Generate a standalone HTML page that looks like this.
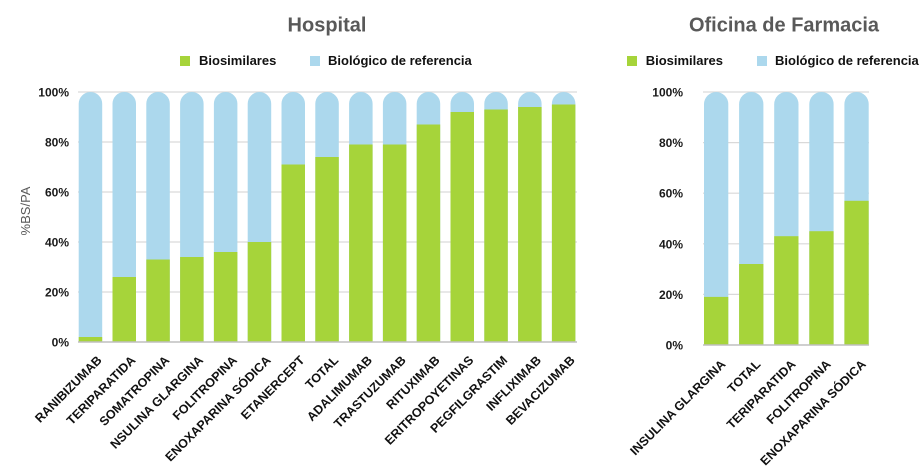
<!DOCTYPE html>
<html><head><meta charset="utf-8"><style>
html,body{margin:0;padding:0;background:#fff;}
svg{display:block;}
text{font-family:"Liberation Sans",Arial,sans-serif;}
.t{font-size:20px;font-weight:bold;fill:#595959;}
.lg{font-size:13px;font-weight:bold;fill:#111;}
.yl{font-size:12px;font-weight:bold;fill:#1a1a1a;}
.xl{font-size:12.5px;font-weight:bold;fill:#111;}
</style></head><body>
<svg width="921" height="470" viewBox="0 0 921 470" xmlns="http://www.w3.org/2000/svg">
<rect width="921" height="470" fill="#fff"/>
<!-- Hospital -->
<text class="t" x="327" y="31.5" text-anchor="middle">Hospital</text>
<rect x="180" y="56" width="10" height="10" fill="#a6d43a"/>
<text class="lg" x="199" y="65">Biosimilares</text>
<rect x="310" y="56" width="10" height="10" fill="#acd8ed"/>
<text class="lg" x="328" y="65">Biológico de referencia</text>
<g stroke="#d9d9d9" stroke-width="1.2">
<line x1="78" y1="92" x2="577" y2="92"/>
<line x1="78" y1="142" x2="577" y2="142"/>
<line x1="78" y1="192" x2="577" y2="192"/>
<line x1="78" y1="242" x2="577" y2="242"/>
<line x1="78" y1="292" x2="577" y2="292"/>
</g>
<g class="yl" text-anchor="end">
<text x="69" y="96.5">100%</text>
<text x="69" y="146.5">80%</text>
<text x="69" y="196.5">60%</text>
<text x="69" y="246.5">40%</text>
<text x="69" y="296.5">20%</text>
<text x="69" y="346.5">0%</text>
</g>
<text transform="translate(30,211) rotate(-90)" font-size="13" fill="#595959" text-anchor="middle">%BS/PA</text>
<g fill="#acd8ed">
<path d="M78.7,342V103.75A11.75,11.75 0 0 1 102.2,103.75V342Z"/>
<path d="M112.5,342V103.75A11.75,11.75 0 0 1 136,103.75V342Z"/>
<path d="M146.3,342V103.75A11.75,11.75 0 0 1 169.8,103.75V342Z"/>
<path d="M180.1,342V103.75A11.75,11.75 0 0 1 203.6,103.75V342Z"/>
<path d="M213.9,342V103.75A11.75,11.75 0 0 1 237.4,103.75V342Z"/>
<path d="M247.7,342V103.75A11.75,11.75 0 0 1 271.2,103.75V342Z"/>
<path d="M281.5,342V103.75A11.75,11.75 0 0 1 305,103.75V342Z"/>
<path d="M315.3,342V103.75A11.75,11.75 0 0 1 338.8,103.75V342Z"/>
<path d="M349.1,342V103.75A11.75,11.75 0 0 1 372.6,103.75V342Z"/>
<path d="M382.9,342V103.75A11.75,11.75 0 0 1 406.4,103.75V342Z"/>
<path d="M416.7,342V103.75A11.75,11.75 0 0 1 440.2,103.75V342Z"/>
<path d="M450.5,342V103.75A11.75,11.75 0 0 1 474,103.75V342Z"/>
<path d="M484.3,342V103.75A11.75,11.75 0 0 1 507.8,103.75V342Z"/>
<path d="M518.1,342V103.75A11.75,11.75 0 0 1 541.6,103.75V342Z"/>
<path d="M551.9,342V103.75A11.75,11.75 0 0 1 575.4,103.75V342Z"/>
</g>
<g fill="#a6d43a">
<rect x="78.7" y="337" width="23.5" height="5"/>
<rect x="112.5" y="277" width="23.5" height="65"/>
<rect x="146.3" y="259.5" width="23.5" height="82.5"/>
<rect x="180.1" y="257" width="23.5" height="85"/>
<rect x="213.9" y="252" width="23.5" height="90"/>
<rect x="247.7" y="242" width="23.5" height="100"/>
<rect x="281.5" y="164.5" width="23.5" height="177.5"/>
<rect x="315.3" y="157" width="23.5" height="185"/>
<rect x="349.1" y="144.5" width="23.5" height="197.5"/>
<rect x="382.9" y="144.5" width="23.5" height="197.5"/>
<rect x="416.7" y="124.5" width="23.5" height="217.5"/>
<rect x="450.5" y="112" width="23.5" height="230"/>
<rect x="484.3" y="109.5" width="23.5" height="232.5"/>
<rect x="518.1" y="107" width="23.5" height="235"/>
<rect x="551.9" y="104.5" width="23.5" height="237.5"/>
</g>
<line x1="78" y1="342" x2="577" y2="342" stroke="#bfbfbf" stroke-width="1.6"/>
<g class="xl" text-anchor="end">
<text transform="translate(102.5,361) rotate(-45)">RANIBIZUMAB</text>
<text transform="translate(136.3,361) rotate(-45)">TERIPARATIDA</text>
<text transform="translate(170.1,361) rotate(-45)">SOMATROPINA</text>
<text transform="translate(203.9,361) rotate(-45)">NSULINA GLARGINA</text>
<text transform="translate(237.7,361) rotate(-45)">FOLITROPINA</text>
<text transform="translate(271.5,361) rotate(-45)">ENOXAPARINA SÓDICA</text>
<text transform="translate(305.3,361) rotate(-45)">ETANERCEPT</text>
<text transform="translate(339.1,361) rotate(-45)">TOTAL</text>
<text transform="translate(372.9,361) rotate(-45)">ADALIMUMAB</text>
<text transform="translate(406.7,361) rotate(-45)">TRASTUZUMAB</text>
<text transform="translate(440.5,361) rotate(-45)">RITUXIMAB</text>
<text transform="translate(474.3,361) rotate(-45)">ERITROPOYETINAS</text>
<text transform="translate(508.1,361) rotate(-45)">PEGFILGRASTIM</text>
<text transform="translate(541.9,361) rotate(-45)">INFLIXIMAB</text>
<text transform="translate(575.7,361) rotate(-45)">BEVACIZUMAB</text>
</g>

<!-- Oficina de Farmacia -->
<text class="t" x="784" y="31.5" text-anchor="middle">Oficina de Farmacia</text>
<rect x="627" y="56" width="10" height="10" fill="#a6d43a"/>
<text class="lg" x="645.7" y="65">Biosimilares</text>
<rect x="757" y="56" width="10" height="10" fill="#acd8ed"/>
<text class="lg" x="775" y="65">Biológico de referencia</text>
<g stroke="#d9d9d9" stroke-width="1.2">
<line x1="703" y1="92" x2="869" y2="92"/>
<line x1="703" y1="142.6" x2="869" y2="142.6"/>
<line x1="703" y1="193.2" x2="869" y2="193.2"/>
<line x1="703" y1="243.8" x2="869" y2="243.8"/>
<line x1="703" y1="294.4" x2="869" y2="294.4"/>
</g>
<g class="yl" text-anchor="end">
<text x="683" y="96.5">100%</text>
<text x="683" y="147.1">80%</text>
<text x="683" y="197.7">60%</text>
<text x="683" y="248.3">40%</text>
<text x="683" y="298.9">20%</text>
<text x="683" y="349.5">0%</text>
</g>
<g fill="#acd8ed">
<path d="M704,345V104.15A12.15,12.15 0 0 1 728.3,104.15V345Z"/>
<path d="M739.1,345V104.15A12.15,12.15 0 0 1 763.4,104.15V345Z"/>
<path d="M774.2,345V104.15A12.15,12.15 0 0 1 798.5,104.15V345Z"/>
<path d="M809.3,345V104.15A12.15,12.15 0 0 1 833.6,104.15V345Z"/>
<path d="M844.4,345V104.15A12.15,12.15 0 0 1 868.7,104.15V345Z"/>
</g>
<g fill="#a6d43a">
<rect x="704" y="296.9" width="24.3" height="48.1"/>
<rect x="739.1" y="264" width="24.3" height="81"/>
<rect x="774.2" y="236.2" width="24.3" height="108.8"/>
<rect x="809.3" y="231.2" width="24.3" height="113.8"/>
<rect x="844.4" y="200.8" width="24.3" height="144.2"/>
</g>
<line x1="703" y1="345" x2="869" y2="345" stroke="#bfbfbf" stroke-width="1.6"/>
<g class="xl" text-anchor="end">
<text transform="translate(726.2,365) rotate(-45)">INSULINA GLARGINA</text>
<text transform="translate(761.3,365) rotate(-45)">TOTAL</text>
<text transform="translate(796.4,365) rotate(-45)">TERIPARATIDA</text>
<text transform="translate(831.5,365) rotate(-45)">FOLITROPINA</text>
<text transform="translate(866.6,365) rotate(-45)">ENOXAPARINA SÓDICA</text>
</g>
</svg>
</body></html>
